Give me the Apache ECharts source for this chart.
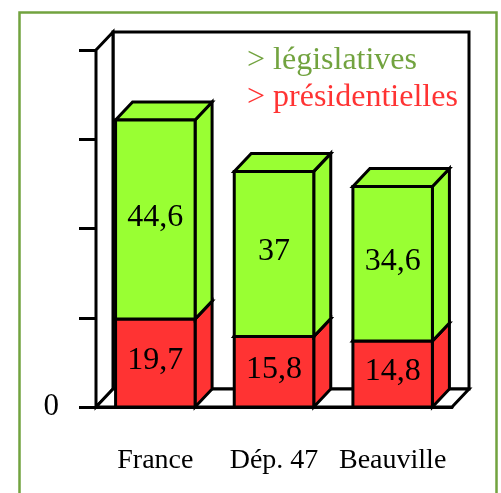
<!DOCTYPE html>
<html>
<head>
<meta charset="utf-8">
<script src="https://cdn.jsdelivr.net/npm/echarts@6/dist/echarts.min.js"></script>
<style>
  html, body { margin: 0; padding: 0; background: #fff; }
  #chart { width: 501px; height: 493px; }
</style>
</head>
<body>
<div id="chart"></div>
<script>
// données
const categories = ['France', 'Dép. 47', 'Beauville'];
const presidentielles = [19.7, 15.8, 14.8];
const legislatives = [44.6, 37, 34.6];
const yTicks = [0, 20, 40, 60, 80];

const GREEN = '#99ff33';
const RED = '#ff3333';
const TXT_GREEN = '#72a33f';
const DX = 17, DY = -18; // profondeur 3D
const LW = 3;
const FONT = 'Liberation Serif, Times New Roman, serif';

const fmt = v => String(v).replace('.', ',');

// barre 3D : face avant, côté, dessus
function renderBox(params, api) {
  const ci = api.value(0);
  const lo = api.value(1);
  const hi = api.value(2);
  const pLo = api.coord([ci, lo]);
  const pHi = api.coord([ci, hi]);
  const w = api.size([1, 0])[0] * 0.67;
  const x0 = pLo[0] - w / 2, x1 = pLo[0] + w / 2;
  const yb = pLo[1], yt = pHi[1];
  const color = api.visual('color');
  const st = { fill: color, stroke: '#000', lineWidth: LW, lineJoin: 'miter' };
  return {
    type: 'group',
    children: [
      { type: 'polygon', shape: { points: [[x1, yb], [x1 + DX, yb + DY], [x1 + DX, yt + DY], [x1, yt]] }, style: st },
      { type: 'polygon', shape: { points: [[x0, yt], [x1, yt], [x1 + DX, yt + DY], [x0 + DX, yt + DY]] }, style: st },
      { type: 'rect', shape: { x: x0, y: yt, width: w, height: yb - yt }, style: st },
      { type: 'text', style: { text: fmt(api.value(3)), x: (x0 + x1) / 2, y: (yb + yt) / 2 - 2,
          align: 'center', verticalAlign: 'middle', font: '32px ' + FONT, fill: '#000' } }
    ]
  };
}

// murs du fond et sol
function renderFrame(params, api) {
  const c = params.coordSys;
  const x = c.x, y = c.y, w = c.width, h = c.height;
  const st = { fill: '#fff', stroke: '#000', lineWidth: LW };
  return {
    type: 'group',
    children: [
      { type: 'polygon', shape: { points: [[x + DX, y + DY], [x + w + DX, y + DY], [x + w + DX, y + h + DY], [x + DX, y + h + DY]] }, style: st },
      { type: 'polygon', shape: { points: [[x, y], [x + DX, y + DY], [x + DX, y + h + DY], [x, y + h]] }, style: st },
      { type: 'polygon', shape: { points: [[x, y + h], [x + DX, y + h + DY], [x + w + DX, y + h + DY], [x + w, y + h]] }, style: st }
    ]
  };
}

const redData = categories.map((c, i) => [i, 0, presidentielles[i], presidentielles[i]]);
const greenData = categories.map((c, i) => [i, presidentielles[i], presidentielles[i] + legislatives[i], legislatives[i]]);

const chart = echarts.init(document.getElementById('chart'));
chart.setOption({
  animation: false,
  backgroundColor: '#fff',
  textStyle: { fontFamily: FONT },
  graphic: [{
    type: 'rect', left: 17, top: 10, z: 100,
    shape: { width: 477, height: 500 },
    style: { fill: 'none', stroke: TXT_GREEN, lineWidth: 2.5 }
  }],
  legend: {
    orient: 'vertical', left: 237, top: 40, itemGap: 5,
    itemWidth: 0, itemHeight: 32, selectedMode: false,
    formatter: '> {name}',
    textStyle: { fontSize: 32, fontFamily: FONT },
    data: [
      { name: 'législatives', icon: 'none', textStyle: { color: TXT_GREEN } },
      { name: 'présidentielles', icon: 'none', textStyle: { color: RED } }
    ]
  },
  grid: { left: 96, right: 49, top: 50, bottom: 86 },
  xAxis: {
    type: 'category', data: categories,
    axisLine: { lineStyle: { color: '#000', width: LW } },
    axisTick: { length: 16, interval: 0, lineStyle: { color: '#000', width: LW } },
    axisLabel: { margin: 40, fontSize: 28, color: '#000', fontFamily: FONT, interval: 0 }
  },
  yAxis: {
    type: 'value', min: yTicks[0], max: yTicks[yTicks.length - 1], interval: 20,
    splitLine: { show: false },
    axisLine: { show: true, lineStyle: { color: '#000', width: LW } },
    axisTick: { show: true, length: 17, lineStyle: { color: '#000', width: LW } },
    axisLabel: { margin: 37, fontSize: 31, color: '#000', fontFamily: FONT,
      formatter: v => (v === 0 ? '0' : '') }
  },
  series: [
    { type: 'custom', name: 'frame', renderItem: renderFrame, data: [[0, 0]], z: 1, silent: true, legendHoverLink: false },
    { type: 'custom', name: 'présidentielles', renderItem: renderBox, data: redData, itemStyle: { color: RED },
      encode: { x: 0, y: [1, 2] }, z: 3 },
    { type: 'custom', name: 'législatives', renderItem: renderBox, data: greenData, itemStyle: { color: GREEN },
      encode: { x: 0, y: [1, 2] }, z: 4 }
  ]
});
</script>
</body>
</html>
